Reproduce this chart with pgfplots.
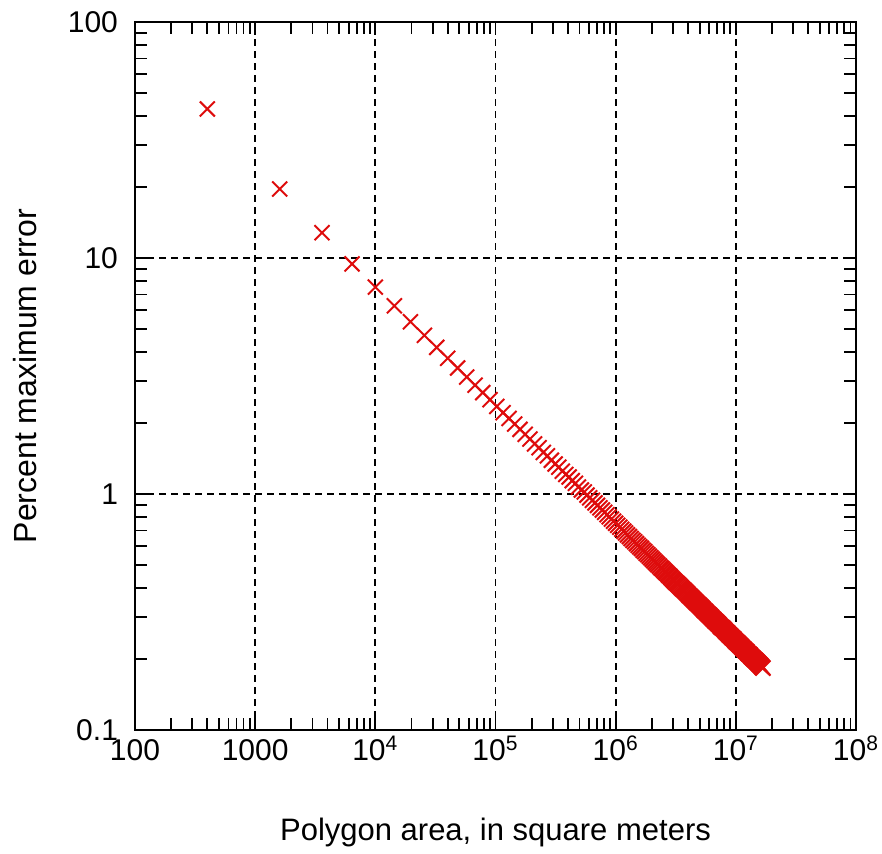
\documentclass[border=0pt]{standalone}
\usepackage{fontspec}
\setmainfont{Liberation Sans}
\usepackage{pgfplots}
\pgfplotsset{compat=1.18}
\definecolor{ptred}{RGB}{222,12,12}
\begin{document}
\begin{tikzpicture}
\begin{axis}[
  at={(0,0)}, anchor=south west,
  scale only axis, width=360.5pt, height=354pt,
  xmode=log, ymode=log,
  xmin=100, xmax=1e8, ymin=0.1, ymax=100,
  xtick={1e2,1e3,1e4,1e5,1e6,1e7,1e8},
  xticklabels={100,1000,10\textsuperscript{4},10\textsuperscript{5},10\textsuperscript{6},10\textsuperscript{7},10\textsuperscript{8}},
  ytick={0.1,1,10,100},
  yticklabels={0.1,1,10,100},
  minor xtick={2e2,3e2,4e2,5e2,6e2,7e2,8e2,9e2,2e3,3e3,4e3,5e3,6e3,7e3,8e3,9e3,2e4,3e4,4e4,5e4,6e4,7e4,8e4,9e4,2e5,3e5,4e5,5e5,6e5,7e5,8e5,9e5,2e6,3e6,4e6,5e6,6e6,7e6,8e6,9e6,2e7,3e7,4e7,5e7,6e7,7e7,8e7,9e7},
  minor ytick={0.2,0.3,0.4,0.5,0.6,0.7,0.8,0.9,2,3,4,5,6,7,8,9,20,30,40,50,60,70,80,90},
  tick align=inside, tick pos=both,
  major tick length=6.5pt, minor tick length=6pt,
  every tick/.style={black, line width=0.9pt},
  axis line style={line width=1pt},
  xmajorgrids, ymajorgrids,
  major grid style={black, line width=0.9pt, dash pattern=on 3.5pt off 2.5pt},
  xticklabel style={font=\fontsize{15}{18}\selectfont, anchor=north, inner sep=0pt, text height=13.7pt, text depth=0pt, yshift=-1.5pt},
  yticklabel style={font=\fontsize{15}{18}\selectfont, xshift=-5pt},
  xlabel={Polygon area, in square meters},
  xlabel style={font=\fontsize{15.5}{18}\selectfont, at={(axis description cs:0.5,-0.14407)}, anchor=center},
  ylabel={Percent maximum error},
  ylabel style={font=\fontsize{16}{19}\selectfont, at={(axis description cs:-0.15257,0.5)}, anchor=center},
]
\addplot[only marks, mark=x, mark size=5.3pt, color=ptred, mark options={line width=1pt}] table {
x y
400 42.8
1600 19.6
3600 12.8
6400 9.44
10000 7.53
14400 6.27
19600 5.37
25600 4.70
32400 4.18
40000 3.76
48400 3.42
57600 3.13
67600 2.89
78400 2.69
90000 2.51
102400 2.35
115600 2.21
129600 2.09
144400 1.98
160000 1.88
176400 1.79
193600 1.71
211600 1.63
230400 1.57
250000 1.50
270400 1.45
291600 1.39
313600 1.34
336400 1.30
360000 1.25
384400 1.21
409600 1.18
435600 1.14
462400 1.11
490000 1.07
518400 1.04
547600 1.02
577600 0.989
608400 0.964
640000 0.940
672400 0.917
705600 0.895
739600 0.874
774400 0.855
810000 0.836
846400 0.817
883600 0.800
921600 0.783
960400 0.767
1000000 0.752
1040400 0.737
1081600 0.723
1123600 0.709
1166400 0.696
1210000 0.684
1254400 0.671
1299600 0.660
1345600 0.648
1392400 0.637
1440000 0.627
1488400 0.616
1537600 0.606
1587600 0.597
1638400 0.588
1690000 0.578
1742400 0.570
1795600 0.561
1849600 0.553
1904400 0.545
1960000 0.537
2016400 0.530
2073600 0.522
2131600 0.515
2190400 0.508
2250000 0.501
2310400 0.495
2371600 0.488
2433600 0.482
2496400 0.476
2560000 0.470
2624400 0.464
2689600 0.459
2755600 0.453
2822400 0.448
2890000 0.442
2958400 0.437
3027600 0.432
3097600 0.427
3168400 0.422
3240000 0.418
3312400 0.413
3385600 0.409
3459600 0.404
3534400 0.400
3610000 0.396
3686400 0.392
3763600 0.388
3841600 0.384
3920400 0.380
4000000 0.376
4080400 0.372
4161600 0.369
4243600 0.365
4326400 0.362
4410000 0.358
4494400 0.355
4579600 0.351
4665600 0.348
4752400 0.345
4840000 0.342
4928400 0.339
5017600 0.336
5107600 0.333
5198400 0.330
5290000 0.327
5382400 0.324
5475600 0.321
5569600 0.319
5664400 0.316
5760000 0.313
5856400 0.311
5953600 0.308
6051600 0.306
6150400 0.303
6250000 0.301
6350400 0.298
6451600 0.296
6553600 0.294
6656400 0.291
6760000 0.289
6864400 0.287
6969600 0.285
7075600 0.283
7182400 0.281
7290000 0.279
7398400 0.276
7507600 0.274
7617600 0.272
7728400 0.271
7840000 0.269
7952400 0.267
8065600 0.265
8179600 0.263
8294400 0.261
8410000 0.259
8526400 0.258
8643600 0.256
8761600 0.254
8880400 0.252
9000000 0.251
9120400 0.249
9241600 0.247
9363600 0.246
9486400 0.244
9610000 0.243
9734400 0.241
9859600 0.239
9985600 0.238
10112400 0.236
10240000 0.235
10368400 0.234
10497600 0.232
10627600 0.231
10758400 0.229
10890000 0.228
11022400 0.227
11155600 0.225
11289600 0.224
11424400 0.222
11560000 0.221
11696400 0.220
11833600 0.219
11971600 0.217
12110400 0.216
12250000 0.215
12390400 0.214
12531600 0.212
12673600 0.211
12816400 0.210
12960000 0.209
13104400 0.208
13249600 0.207
13395600 0.205
13542400 0.204
13690000 0.203
13838400 0.202
13987600 0.201
14137600 0.200
14288400 0.199
14440000 0.198
14592400 0.197
14745600 0.196
14899600 0.195
15054400 0.194
15210000 0.193
15366400 0.192
15523600 0.191
15681600 0.190
15840400 0.189
16000000 0.188
16160400 0.187
16321600 0.186
16483600 0.185
16646400 0.184
16810000 0.183
};
\end{axis}
\path (-67.5pt,-62pt) rectangle (373.5pt,365pt);
\end{tikzpicture}
\end{document}
